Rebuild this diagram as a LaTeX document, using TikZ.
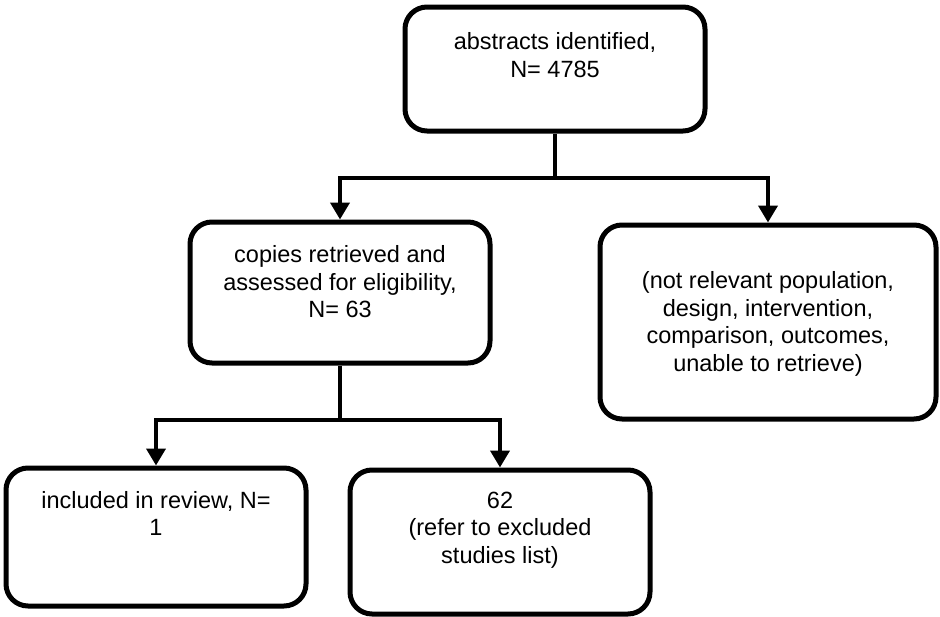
\documentclass[tikz,border=0pt]{standalone}
\usepackage{fontspec}
\setmainfont{Liberation Sans}
\usetikzlibrary{arrows.meta}
\begin{document}
\begin{tikzpicture}[x=1pt,y=-1pt,
  box/.style={draw=black, line width=5pt, rounded corners=22pt, minimum width=300pt, inner sep=0pt},
  txt/.style={align=center, font=\fontsize{23.5}{27.5}\selectfont, inner sep=0pt},
  conn/.style={line width=4pt},
  arr/.style={line width=4pt, -{Triangle[length=17pt,width=19pt]}}]
\useasboundingbox (0,0) rectangle (940,616);
% boxes
\node[box, minimum height=124pt] (top) at (555,69) {};
\node[box, minimum height=141pt] (mid) at (340,292.5) {};
\node[box, minimum width=336pt, minimum height=194pt] (right) at (768,322) {};
\node[box, minimum height=138pt] (bl) at (156,537) {};
\node[box, minimum height=144pt] (bm) at (500,542) {};
% texts
\node[txt] (ttop) at (555,55) {abstracts identified,\\N= 4785};
\node[txt] (tmid) at (340,282) {copies retrieved and\\assessed for eligibility,\\N= 63};
\node[txt] (tright) at (768,324) {(not relevant population,\\design, intervention,\\comparison, outcomes,\\unable to retrieve)};
\node[txt] (tbl) at (156,513.5) {included in review, N=\\1};
\node[txt] (tbm) at (500,530) {62\\(refer to excluded\\studies list)};
% connectors
\coordinate (j1) at (555,178);
\coordinate (j2) at (340,420);
\draw[conn] (top.south) -- (j1);
\draw[arr] (j1) -| (mid.north);
\draw[arr] (j1) -| (right.north);
\draw[conn] (mid.south) -- (j2);
\draw[arr] (j2) -| (bl.north);
\draw[arr] (j2) -| (bm.north);
\end{tikzpicture}
\end{document}
